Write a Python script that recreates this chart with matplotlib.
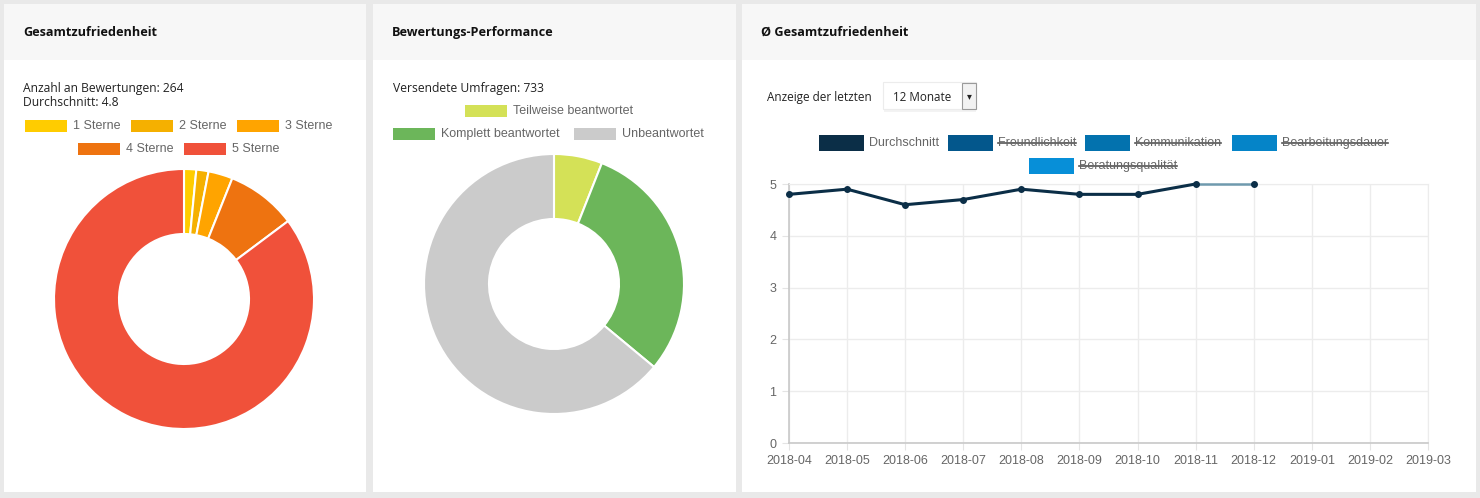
import matplotlib
matplotlib.use("Agg")
import matplotlib.pyplot as plt
from matplotlib.patches import Rectangle

W, H = 1480, 498

# left donut
star_labels = ["1 Sterne", "2 Sterne", "3 Sterne", "4 Sterne", "5 Sterne"]
star_counts = [4, 4, 8, 23, 225]
star_colors = ["#ffcc00", "#f5b000", "#ffa400", "#ee7310", "#f0513a"]

# middle donut
survey_labels = ["Teilweise beantwortet", "Komplett beantwortet", "Unbeantwortet"]
survey_counts = [44, 220, 469]
survey_colors = ["#d4e157", "#6cb65a", "#cbcbcb"]

# line chart
months = ["2018-04", "2018-05", "2018-06", "2018-07", "2018-08", "2018-09",
          "2018-10", "2018-11", "2018-12", "2019-01", "2019-02", "2019-03"]
average = [4.8, 4.9, 4.6, 4.7, 4.9, 4.8, 4.8, 5.0, 5.0]
line_labels = ["Durchschnitt", "Freundlichkeit", "Kommunikation",
               "Bearbeitungsdauer", "Beratungsqualität"]
line_colors = ["#0b2e47", "#03578c", "#0372ae", "#0584c8", "#078fd8"]

BODY = "Open Sans"
LABEL = "Liberation Sans"
plt.rcParams["font.family"] = BODY

fig = plt.figure(figsize=(W / 100, H / 100), dpi=100, facecolor="#e9e9e9")

# overlay in pixel coordinates for cards, headers and legends
bg = fig.add_axes([0, 0, 1, 1], zorder=0)
bg.set_xlim(0, W)
bg.set_ylim(H, 0)
bg.axis("off")


def card(x0, x1, title):
    bg.add_patch(Rectangle((x0, 4), x1 - x0, 488, fc="white", ec="none"))
    bg.add_patch(Rectangle((x0, 4), x1 - x0, 56, fc="#f7f7f7", ec="none"))
    bg.text(x0 + 19, 32, title, fontsize=9.1, fontweight="bold", color="#111111",
            ha="left", va="center")


def legend_item(x, y, label, color, box_w=42, box_h=12, text_gap=6, strike=False):
    bg.add_patch(Rectangle((x, y - box_h / 2), box_w, box_h, fc=color, ec="none"))
    t = bg.text(x + box_w + text_gap, y, label, fontsize=9, color="#666666",
                ha="left", va="center", family=LABEL)
    if strike:
        bb = t.get_window_extent(fig.canvas.get_renderer())
        bg.plot([bb.x0, bb.x1], [y, y], color="#555555", lw=1.2)


card(4, 366, "Gesamtzufriedenheit")
card(373, 736, "Bewertungs-Performance")
card(742, 1476, "Ø Gesamtzufriedenheit")

bg.text(23, 88, "Anzahl an Bewertungen: 264", fontsize=8.7, color="#222222", va="center")
bg.text(23, 102, "Durchschnitt: 4.8", fontsize=8.7, color="#222222", va="center")
bg.text(393, 88, "Versendete Umfragen: 733", fontsize=8.7, color="#222222", va="center")

star_pos = [(25, 126), (131, 126), (237, 126), (78, 149), (184, 149)]
for (x, y), label, color in zip(star_pos, star_labels, star_colors):
    legend_item(x, y, label, color)

survey_pos = [(465, 111), (393, 134), (574, 134)]
for (x, y), label, color in zip(survey_pos, survey_labels, survey_colors):
    legend_item(x, y, label, color)

line_pos = [(819, 143), (948, 143), (1085, 143), (1232, 143), (1029, 166)]
for i, ((x, y), label, color) in enumerate(zip(line_pos, line_labels, line_colors)):
    legend_item(x, y, label, color, box_w=45, box_h=16, text_gap=5, strike=i > 0)

# dropdown
bg.text(767, 97, "Anzeige der letzten", fontsize=8.5, color="#222222", va="center")
bg.add_patch(Rectangle((884, 85), 92, 27, fc="#eeeeee", ec="none", alpha=0.7))
bg.add_patch(Rectangle((883, 82), 93, 27, fc="white", ec="#ececec", lw=0.8))
bg.text(893, 97, "12 Monate", fontsize=8.4, color="#222222", va="center")
bg.add_patch(Rectangle((962, 83), 14, 26, fc="#f2f2f2", ec="#9a9a9a", lw=0.8))
bg.text(969, 96, "▾", fontsize=7, color="#222222", ha="center", va="center",
        family="DejaVu Sans")


def donut(cx, cy, values, colors, r=130):
    ax = fig.add_axes([(cx - r) / W, 1 - (cy + r) / H, 2 * r / W, 2 * r / H], zorder=1)
    ax.pie(values, colors=colors, startangle=90, counterclock=False, radius=1,
           wedgeprops=dict(width=0.5, edgecolor="white", linewidth=1.5))
    ax.set_xlim(-1, 1)
    ax.set_ylim(-1, 1)
    ax.patch.set_alpha(0)


donut(184, 299, star_counts, star_colors)
donut(554, 284, survey_counts, survey_colors)

# line chart, 0 at y=443, 5 at y=184
left, right, top, bottom = 789, 1428, 184, 443
ax = fig.add_axes([left / W, 1 - bottom / H, (right - left) / W, (bottom - top) / H], zorder=1)
ax.patch.set_alpha(0)
x_vals = list(range(len(average)))
# last segment looks lighter in the reference
ax.plot(x_vals[-2:], average[-2:], color="#6f9aae", lw=1.8, clip_on=False, zorder=3)
ax.plot(x_vals[:-1], average[:-1], color=line_colors[0], lw=2.2, clip_on=False, zorder=4)
ax.plot(x_vals, average, ls="none", color=line_colors[0], marker="o", ms=4,
        clip_on=False, zorder=5)
ax.set_xlim(0, len(months) - 1)
ax.set_ylim(0, 5)
ax.set_xticks(range(len(months)), months, family=LABEL)
ax.set_yticks(range(6))
ax.set_yticklabels(range(6), family=LABEL)
ax.grid(color="#ececec", lw=1)
ax.tick_params(axis="both", length=5, color="#e4e4e4", labelsize=9, labelcolor="#666666", pad=4)
for side in ["top", "right"]:
    ax.spines[side].set_color("#ececec")
for side in ["left", "bottom"]:
    ax.spines[side].set_color("#c8c8c8")
    ax.spines[side].set_linewidth(1.2)

fig.savefig("out.png", dpi=100, facecolor=fig.get_facecolor())
